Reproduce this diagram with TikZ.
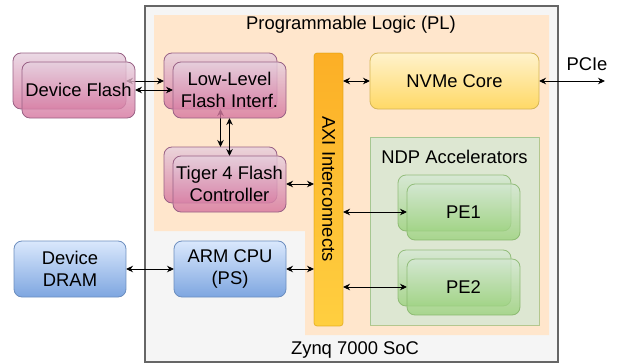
\documentclass[tikz,border=0pt]{standalone}
\usepackage{fontspec}
\setmainfont{Liberation Sans}
\usetikzlibrary{arrows.meta}
\pgfdeclarelayer{bgl}
\pgfdeclarelayer{backl}
\pgfdeclarelayer{arrl}
\pgfsetlayers{bgl,backl,arrl,main}
\definecolor{pinktop}{HTML}{E6D0DE}
\definecolor{pinkbot}{HTML}{D5739D}
\definecolor{pinkline}{HTML}{996185}
\definecolor{greentop}{HTML}{D5E8D4}
\definecolor{greenbot}{HTML}{97D077}
\definecolor{greenline}{HTML}{82B366}
\definecolor{bluetop}{HTML}{DAE8FC}
\definecolor{bluebot}{HTML}{7EA6E0}
\definecolor{blueline}{HTML}{6C8EBF}
\definecolor{yeltop}{HTML}{FFF2CC}
\definecolor{yelbot}{HTML}{FFD966}
\definecolor{yelline}{HTML}{D6B656}
\definecolor{axitop}{HTML}{FCAF26}
\definecolor{axibot}{HTML}{FFCF40}
\definecolor{axiline}{HTML}{D79B00}
\definecolor{plfill}{HTML}{FFE6CC}
\definecolor{socfill}{HTML}{F5F5F5}
\definecolor{socline}{HTML}{666666}
\newcommand{\fsz}{\fontsize{18.4}{22}\selectfont}
\begin{document}
\begin{tikzpicture}[x=1pt,y=-1pt,
  box/.style={rectangle, rounded corners=8pt, minimum width=113pt, minimum height=56pt,
    inner sep=0pt, outer sep=0pt, line width=0.8pt, align=center, font=\fsz},
  pinkbox/.style={box, top color=pinktop, bottom color=pinkbot, draw=pinkline, fill opacity=0.8, text opacity=1},
  greenbox/.style={box, top color=greentop, bottom color=greenbot, draw=greenline, fill opacity=0.75, draw opacity=0.8, text opacity=1},
  bluebox/.style={box, minimum width=112pt, top color=bluetop, bottom color=bluebot, draw=blueline},
  lbl/.style={inner sep=0pt, font=\fsz},
  biarrow/.style={{Stealth[length=7pt,width=6.5pt]}-{Stealth[length=7pt,width=6.5pt]}, line width=0.9pt, black}
]
\useasboundingbox (0,0) rectangle (619,364);

\begin{pgfonlayer}{bgl}
  % SoC
  \node[rectangle, draw=socline, fill=socfill, line width=1.2pt, minimum width=413pt, minimum height=356pt, inner sep=0pt, outer sep=0pt] (soc) at (351.5,184) {};
  % PL region
  \fill[plfill] (154,15) -- (549,15) -- (549,335) -- (305,335) -- (305,231) -- (154,231) -- cycle;
  % NDP accelerators
  \node[rectangle, fill=greentop, fill opacity=0.8, draw=greenline, draw opacity=0.6, line width=0.9pt, minimum width=169pt, minimum height=188pt, inner sep=0pt, outer sep=0pt] (ndp) at (454.5,231) {};
  % AXI bar
  \node[rectangle, rounded corners=3pt, top color=axitop, bottom color=axibot, draw=axiline, draw opacity=0.6, line width=0.8pt, minimum width=29pt, minimum height=273pt, inner sep=0pt, outer sep=0pt] (axi) at (328.5,189.5) {};
\end{pgfonlayer}

\begin{pgfonlayer}{backl}
  \node[pinkbox] (dfB) at (69.5,81) {};
  \node[pinkbox] (llB) at (220.5,81) {};
  \node[pinkbox] (tgB) at (220.5,175) {};
  \node[greenbox] (pe1B) at (454.5,203) {};
  \node[greenbox] (pe2B) at (454.5,278) {};
\end{pgfonlayer}

% front boxes
\node[pinkbox] (dfF) at (78.5,90) {Device Flash};
\node[pinkbox] (llF) at (229.5,90) {Low-Level\\Flash Interf.};
\node[pinkbox] (tgF) at (229.5,184) {Tiger 4 Flash\\Controller};
\node[greenbox] (pe1F) at (463.5,212) {PE1};
\node[greenbox] (pe2F) at (463.5,287) {PE2};
\node[box, minimum width=169pt, top color=yeltop, bottom color=yelbot, draw=yelline] (nvme) at (454.5,81) {NVMe Core};
\node[bluebox] (dram) at (70,269) {Device\\DRAM};
\node[bluebox] (arm) at (230,269) {ARM CPU\\(PS)};

% labels
\node[lbl] (pltitle) at (351,25) {Programmable Logic (PL)};
\node[lbl] (soctitle) at (355,350) {Zynq 7000 SoC};
\node[lbl] (ndptitle) at (454.5,157) {NDP Accelerators};
\node[lbl, rotate=-90] (axititle) at (328.5,189) {AXI Interconnects};
\node[lbl] (pcielbl) at (587,64) {PCIe};
\coordinate (pcie) at (605,81);

% connectors
\begin{pgfonlayer}{arrl}
  \draw[biarrow] (dfB.east) -- (llB.west);
  \draw[biarrow] (dfF.east) -- (llF.west);
  \draw[biarrow] (llB.south) -- (tgB.north);
  \draw[biarrow] (llF.south) -- (tgF.north);
  \draw[biarrow] (tgF.east) -- (tgF.east -| axi.west);
  \draw[biarrow] (nvme.west -| axi.east) -- (nvme.west);
  \draw[biarrow] (nvme.east) -- (pcie);
  \draw[biarrow] (pe1F.west -| axi.east) -- (pe1F.west);
  \draw[biarrow] (pe2F.west -| axi.east) -- (pe2F.west);
  \draw[biarrow] (dram.east) -- (arm.west);
  \draw[biarrow] (arm.east) -- (arm.east -| axi.west);
\end{pgfonlayer}
\end{tikzpicture}
\end{document}
